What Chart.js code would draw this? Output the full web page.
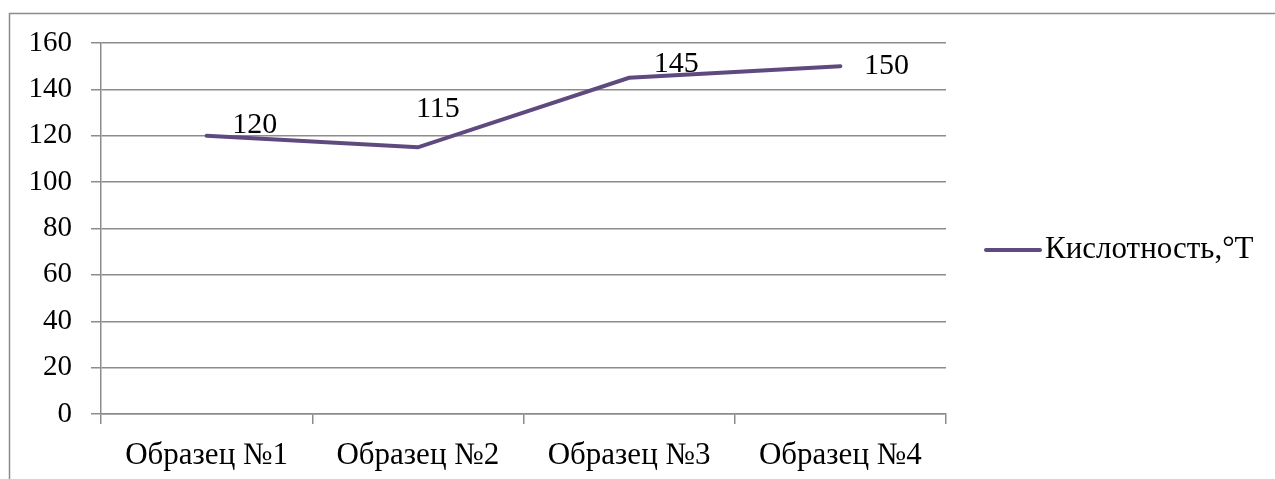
<!DOCTYPE html>
<html>
<head>
<meta charset="utf-8">
<script src="https://cdn.jsdelivr.net/npm/chart.js@4/dist/chart.umd.min.js"></script>
<style>
  html, body { margin: 0; padding: 0; background: #fff; }
</style>
</head>
<body>
<canvas id="acidity" width="1275" height="479"></canvas>
<script>
const samples = ['Образец №1', 'Образец №2', 'Образец №3', 'Образец №4'];
const acidity = [120, 115, 145, 150];
const seriesName = 'Кислотность,°Т';
const yTicks = [0, 20, 40, 60, 80, 100, 120, 140, 160];

const fontFamily = '"Liberation Serif", "Times New Roman", serif';
const lineColor = '#5f4a80';
const gridColor = '#8c8c8c';

// label offsets from each point, as they sit in the original
const labelShift = [[48, -11], [20, -38], [47, -14], [46, 0]];

const frameAndLabels = {
  id: 'frameAndLabels',
  beforeDraw(chart) {
    const ctx = chart.ctx;
    ctx.save();
    ctx.strokeStyle = gridColor;
    ctx.lineWidth = 1.5;
    ctx.strokeRect(9.5, 13.5, 1400, 600);
    ctx.restore();
  },
  afterDatasetsDraw(chart) {
    const ctx = chart.ctx;
    const meta = chart.getDatasetMeta(0);
    ctx.save();
    ctx.font = '30px ' + fontFamily;
    ctx.fillStyle = '#000';
    ctx.textAlign = 'center';
    ctx.textBaseline = 'middle';
    meta.data.forEach((pt, i) => {
      ctx.fillText(String(acidity[i]), pt.x + labelShift[i][0], pt.y + labelShift[i][1]);
    });

    // legend
    const ly = 250;
    ctx.strokeStyle = lineColor;
    ctx.lineWidth = 4;
    ctx.lineCap = 'round';
    ctx.beginPath();
    ctx.moveTo(986, ly);
    ctx.lineTo(1040, ly);
    ctx.stroke();
    ctx.font = '31px ' + fontFamily;
    ctx.textAlign = 'left';
    ctx.fillText(chart.data.datasets[0].label, 1045, ly);
    ctx.restore();
  }
};

new Chart(document.getElementById('acidity'), {
  type: 'line',
  data: {
    labels: samples,
    datasets: [{
      label: seriesName,
      data: acidity,
      borderColor: lineColor,
      borderWidth: 4,
      pointRadius: 0,
      tension: 0,
      borderCapStyle: 'round',
      borderJoinStyle: 'miter'
    }]
  },
  options: {
    responsive: false,
    animation: false,
    layout: { padding: { left: 0, top: 43, right: 329, bottom: 0 } },
    plugins: {
      legend: { display: false },
      tooltip: { enabled: false }
    },
    scales: {
      x: {
        offset: true,
        afterFit: s => { s.height = 65; },
        grid: {
          offset: true,
          drawOnChartArea: false,
          drawTicks: true,
          tickLength: 10,
          color: gridColor,
          lineWidth: 1.5
        },
        border: { color: gridColor, width: 1.5 },
        ticks: {
          color: '#000',
          padding: 13,
          maxRotation: 0,
          font: { family: fontFamily, size: 31 }
        }
      },
      y: {
        min: 0,
        max: 160,
        afterFit: s => { s.width = 101; },
        afterBuildTicks: s => { s.ticks = yTicks.map(v => ({ value: v })); },
        grid: {
          color: gridColor,
          lineWidth: 1.5,
          tickLength: 10
        },
        border: { color: gridColor, width: 1.5 },
        ticks: {
          color: '#000',
          padding: 19,
          font: { family: fontFamily, size: 29 }
        }
      }
    }
  },
  plugins: [frameAndLabels]
});
</script>
</body>
</html>
